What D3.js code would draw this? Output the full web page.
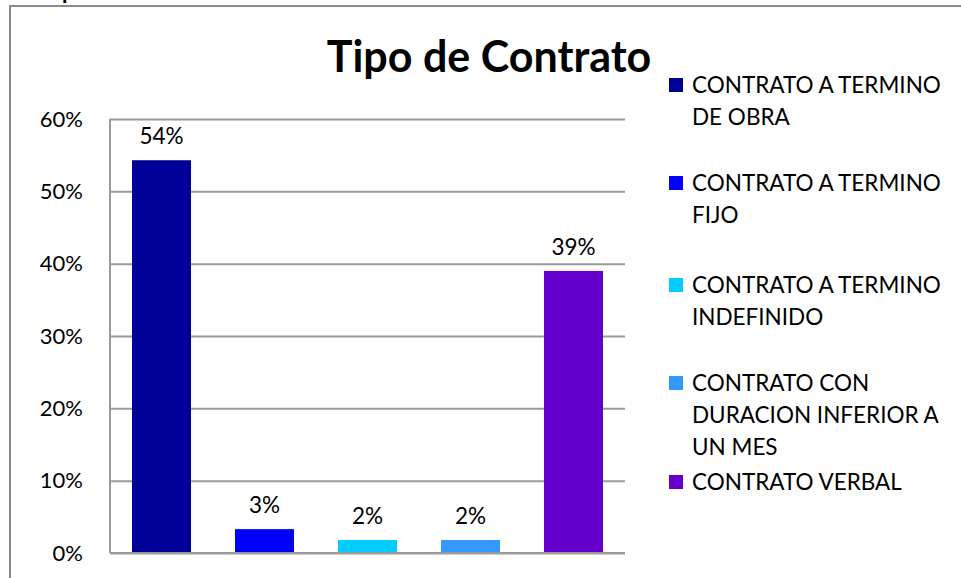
<!DOCTYPE html>
<html>
<head>
<meta charset="utf-8">
<script src="https://cdn.jsdelivr.net/npm/d3@7"></script>
<style>
  body { margin: 0; background: #fff; }
  svg { display: block; font-family: Lato, "Open Sans", sans-serif; }
</style>
</head>
<body>
<svg id="chart" width="961" height="578"></svg>
<script>
// chart data
var categories = [
    "CONTRATO A TERMINO DE OBRA",
    "CONTRATO A TERMINO FIJO",
    "CONTRATO A TERMINO INDEFINIDO",
    "CONTRATO CON DURACION INFERIOR A UN MES",
    "CONTRATO VERBAL"
];
var values = [0.543, 0.033, 0.018, 0.018, 0.39];
var valueLabels = ["54%", "3%", "2%", "2%", "39%"];
var yTicks = [0, 0.1, 0.2, 0.3, 0.4, 0.5, 0.6];
var legendLines = [
    ["CONTRATO A TERMINO", "DE OBRA"],
    ["CONTRATO A TERMINO", "FIJO"],
    ["CONTRATO A TERMINO", "INDEFINIDO"],
    ["CONTRATO CON", "DURACION INFERIOR A", "UN MES"],
    ["CONTRATO VERBAL"]
];
var colors = ["#000099", "#0000ff", "#00ccff", "#3399ff", "#6600cc"];

var svg = d3.select("#chart");
var margin = {left: 110, right: 336, top: 119, bottom: 25};
var width = 961 - margin.left - margin.right,
    height = 578 - margin.top - margin.bottom;

// outer frame (runs off the right and bottom)
svg.append("rect")
    .attr("x", 10).attr("y", 6)
    .attr("width", 1000).attr("height", 1000)
    .attr("fill", "none")
    .attr("stroke", "#8c8c8c")
    .attr("stroke-width", 2);

// cut-off text above the frame
svg.append("text")
    .attr("x", 62).attr("y", -1)
    .attr("font-size", 22)
    .attr("font-weight", "bold")
    .text("p");

var x = d3.scaleBand().domain(categories).range([0, width]).paddingInner(0.427).paddingOuter(0.2135);
var y = d3.scaleLinear().domain([0, 0.6]).range([height, 0]);

var g = svg.append("g").attr("transform", "translate(" + margin.left + "," + margin.top + ")");

// gridlines
var yAxis = d3.axisLeft(y).tickValues(yTicks).tickFormat(d3.format(".0%"))
    .tickSize(-width).tickPadding(27);
var ya = g.append("g").call(yAxis);
ya.select(".domain").remove();
ya.selectAll("line").attr("stroke", "#9a9a9a").attr("stroke-width", 2);
ya.selectAll("text").attr("font-size", 22).attr("fill", "#000")
    .attr("font-family", "Lato, 'Open Sans', sans-serif");

// left axis line
g.append("line").attr("x1", 0).attr("x2", 0).attr("y1", 0).attr("y2", height)
    .attr("stroke", "#9a9a9a").attr("stroke-width", 2);

// bars
g.selectAll("rect.bar").data(values).enter().append("rect")
    .attr("class", "bar")
    .attr("x", function (d, i) { return x(categories[i]); })
    .attr("width", x.bandwidth())
    .attr("y", function (d) { return y(d); })
    .attr("height", function (d) { return height - y(d); })
    .attr("fill", function (d, i) { return colors[i]; });

// x axis line on top of bars
g.append("line").attr("x1", 0).attr("x2", width).attr("y1", height).attr("y2", height)
    .attr("stroke", "#9a9a9a").attr("stroke-width", 2);

// value labels
g.selectAll("text.val").data(values).enter().append("text")
    .attr("class", "val")
    .attr("x", function (d, i) { return x(categories[i]) + x.bandwidth() / 2; })
    .attr("y", function (d) { return y(d) - 16; })
    .attr("text-anchor", "middle")
    .attr("font-size", 22.5)
    .text(function (d, i) { return valueLabels[i]; });

// title
svg.append("text")
    .attr("x", 489).attr("y", 72)
    .attr("text-anchor", "middle")
    .attr("font-size", 43)
    .attr("font-weight", "bold")
    .text("Tipo de Contrato");

// legend
var legendTop = [85, 183, 285, 383, 482];
var lineH = 32;
var lg = svg.append("g");
legendLines.forEach(function (lines, i) {
    lg.append("rect")
        .attr("x", 669).attr("y", legendTop[i] - 7)
        .attr("width", 14).attr("height", 14)
        .attr("fill", colors[i]);
    var t = lg.append("text")
        .attr("x", 692).attr("y", legendTop[i] + 8)
        .attr("font-size", 22.5);
    lines.forEach(function (s, j) {
        t.append("tspan").attr("x", 692).attr("dy", j === 0 ? 0 : lineH).text(s);
    });
});
</script>
</body>
</html>
